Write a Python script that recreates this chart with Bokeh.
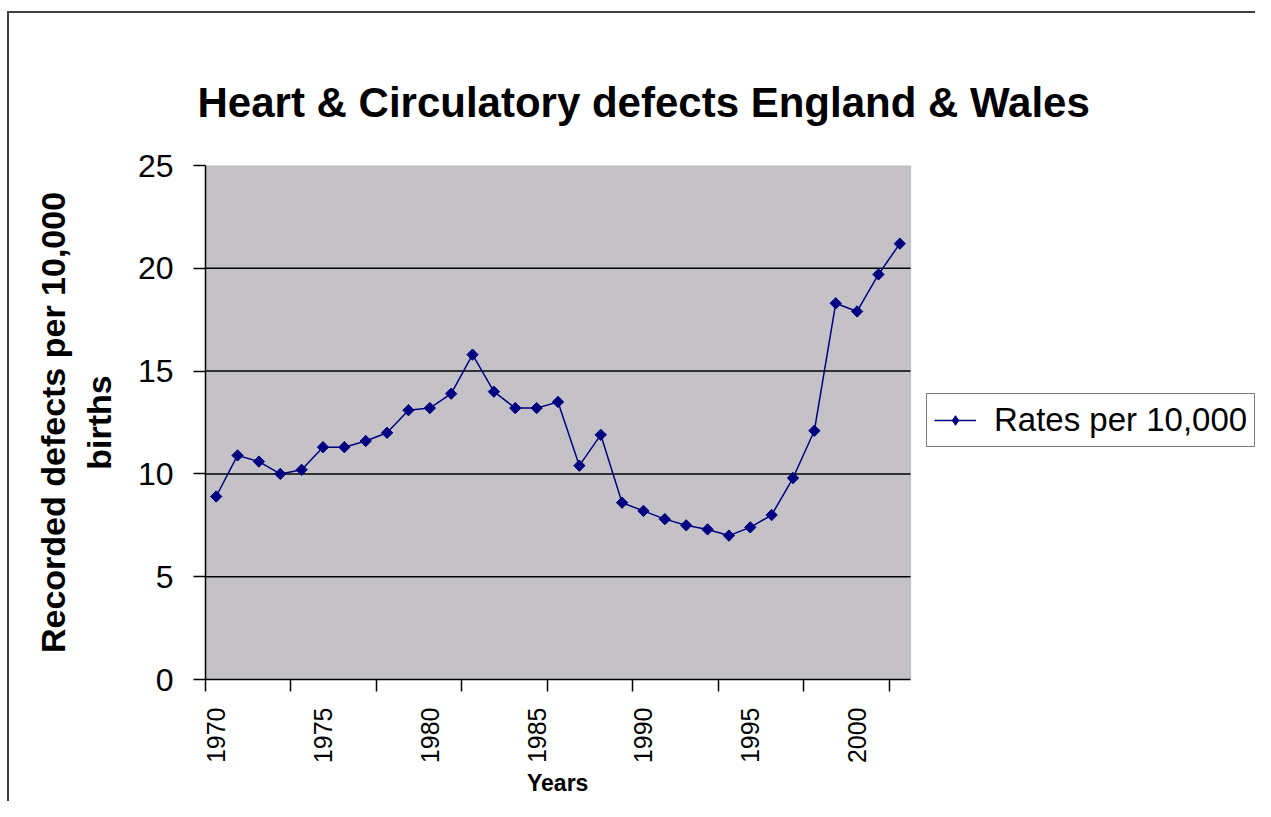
import math
from bokeh.plotting import figure
from bokeh.models import (FixedTicker, Legend, LegendItem, Range1d,
                          BoxAnnotation, Title, LinearAxis)
from bokeh.embed import file_html
from bokeh.resources import INLINE

# ---- data ----
years = list(range(1970, 2003))
rates = [8.9, 10.9, 10.6, 10.0, 10.2, 11.3, 11.3, 11.6, 12.0, 13.1, 13.2,
         13.9, 15.8, 14.0, 13.2, 13.2, 13.5, 10.4, 11.9, 8.6, 8.2, 7.8,
         7.5, 7.3, 7.0, 7.4, 8.0, 9.8, 12.1, 18.3, 17.9, 19.7, 21.2]
year_labels = [1970, 1975, 1980, 1985, 1990, 1995, 2000]
y_ticks = [0, 5, 10, 15, 20, 25]
y_grid = [5, 10, 15, 20]
title_text = "Heart & Circulatory defects England & Wales"
y_title = "Recorded defects per 10,000\nbirths"
x_title = "Years"
series_name = "Rates per 10,000"

# ---- layout constants (pixels) ----
FIG_W, FIG_H = 1255, 801
LEFT, TOP, BOTTOM = 205, 165, 122
PLOT_W = 705            # width of the grey plot area
FRAME_W = FIG_W - LEFT  # frame also hosts the legend on its right

# ---- derived ranges / tick marks between categories (every 4 categories) ----
y_min, y_max = y_ticks[0], y_ticks[-1]
x_start = years[0] - 0.5
x_end = years[-1] + 0.5
x_frame_end = x_start + (x_end - x_start) * FRAME_W / PLOT_W
cat_ticks = [x_start + 4 * k for k in range(int((x_end - x_start) // 4) + 1)]

FONT = "Liberation Sans"
NAVY = "#000080"

p = figure(width=FIG_W, height=FIG_H, output_backend="svg", toolbar_location=None,
           x_range=Range1d(x_start, x_frame_end), y_range=Range1d(y_min, y_max),
           min_border_left=LEFT, min_border_top=TOP, min_border_bottom=BOTTOM,
           min_border_right=0,
           background_fill_color=None, border_fill_color=None,
           outline_line_color=None, title=title_text)

# the default axes (grab them before anything else is added)
xa = p.below[0]
ya = p.left[0]

# outer chart frame (left and top edges)
p.styles = {"box-shadow": "inset 7px 11px 0 0 white, inset 9px 13px 0 0 #404040"}

# grey plot area
area = BoxAnnotation(left=x_start, right=x_end, bottom=y_min, top=y_max,
                     fill_color="#c4c2c6", fill_alpha=1.0,
                     line_color="#808080", line_width=1.5, level="image")
p.add_layout(area)

# empty spacer axis between the title and the plot area
spacer = LinearAxis(ticker=FixedTicker(ticks=[]), axis_line_color=None,
                    major_tick_line_color=None, minor_tick_line_color=None,
                    major_tick_out=36, major_tick_in=0, minor_tick_out=0,
                    minor_tick_in=0, major_label_standoff=0,
                    axis_label_standoff=0)
p.add_layout(spacer, "above")

# chart title
p.title.text_font = FONT
p.title.text_font_size = "42px"
p.title.text_font_style = "bold"
p.title.text_color = "black"
p.title.align = "left"
p.title.vertical_align = "top"
p.title.offset = -8
p.title.standoff = 76

# grid (limited to the plot area)
p.xgrid.visible = False
p.ygrid.visible = False
p.segment(x0=[x_start] * len(y_grid), x1=[x_end] * len(y_grid), y0=y_grid,
          y1=y_grid, line_color="black", line_width=1.5, level="underlay")

# y axis
ya.ticker = FixedTicker(ticks=y_ticks)
ya.axis_line_color = "black"
ya.axis_line_width = 1.5
ya.major_tick_out = 12
ya.major_tick_in = 0
ya.major_tick_line_width = 1.5
ya.minor_tick_line_color = None
ya.major_label_text_font = FONT
ya.major_label_text_font_size = "32px"
ya.major_label_text_color = "black"
ya.major_label_standoff = 20
ya.axis_label = y_title
ya.axis_label_text_font = FONT
ya.axis_label_text_font_size = "34px"
ya.axis_label_text_font_style = "bold"
ya.axis_label_text_color = "black"
ya.axis_label_standoff = 17
ya.axis_label_text_line_height = 1.2

# x axis
xa.bounds = (x_start, x_end)
xa.ticker = FixedTicker(ticks=year_labels, minor_ticks=cat_ticks)
xa.axis_line_color = "black"
xa.axis_line_width = 1.5
xa.major_tick_out = 12
xa.major_tick_in = 0
xa.major_tick_line_color = None
xa.minor_tick_out = 12
xa.minor_tick_in = 0
xa.minor_tick_line_color = "black"
xa.minor_tick_line_width = 1.5
xa.major_label_orientation = math.pi / 2
xa.major_label_text_font = FONT
xa.major_label_text_font_size = "25px"
xa.major_label_text_color = "black"
xa.major_label_standoff = 16

# x axis title, centred under the grey plot area
x_title_obj = Title(text=x_title, align="left", vertical_align="top",
                    offset=PLOT_W / 2 - 31, standoff=6,
                    text_font=FONT, text_font_size="23px",
                    text_font_style="bold", text_color="black")
p.add_layout(x_title_obj, "below")

# series
ln = p.line(years, rates, line_color=NAVY, line_width=1.5)
leg_marker = p.scatter(years, rates, marker="diamond", size=10,
                       fill_color=NAVY, line_color=NAVY)
sc = p.scatter(years, rates, marker="square", angle=math.pi / 4, size=8,
               fill_color=NAVY, line_color=NAVY)

legend = Legend(items=[LegendItem(label=series_name, renderers=[ln, leg_marker])],
                location=(721, 232), orientation="vertical")
legend.label_text_font = FONT
legend.label_text_font_size = "33px"
legend.label_text_color = "black"
legend.glyph_width = 42
legend.glyph_height = 24
legend.label_standoff = 18
legend.padding = 7
legend.spacing = 0
legend.margin = 0
legend.border_line_color = "black"
legend.border_line_width = 1.5
legend.background_fill_color = "white"
legend.background_fill_alpha = 1.0
p.add_layout(legend, "center")

open("out.html", "w").write(file_html(p, INLINE))
